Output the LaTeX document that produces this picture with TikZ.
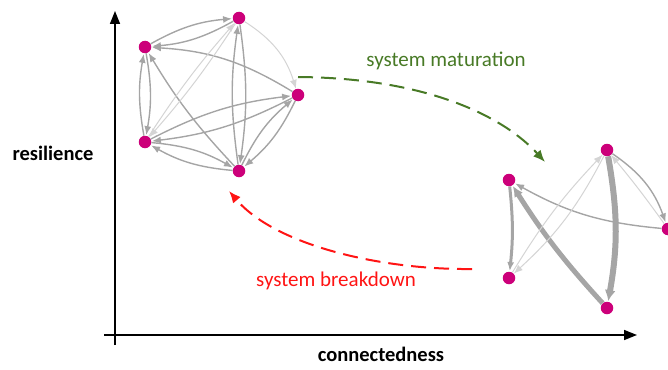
\documentclass[tikz,border=0pt]{standalone}
\usepackage{fontspec}
\setmainfont{Carlito}
\usetikzlibrary{arrows.meta}
\definecolor{nodemag}{RGB}{204,0,122}
\definecolor{edgegray}{RGB}{165,165,165}
\definecolor{edgefaint}{RGB}{212,212,212}
\definecolor{matgreen}{RGB}{72,122,38}
\definecolor{brkred}{RGB}{255,20,20}
\tikzset{
  vtx/.style={circle,fill=nodemag,inner sep=0pt,minimum size=12.5pt},
  edg/.style={draw=edgegray,line width=1.4pt,-{Latex[length=9pt,width=7pt]},shorten >=0.5pt},
  fedg/.style={draw=edgefaint,line width=1pt,-{Latex[length=9pt,width=7pt]}},
  axis/.style={draw=black,line width=1.5pt},
  lbl/.style={font=\fontsize{20.5}{24}\selectfont\bfseries},
  trans/.style={line width=2pt,dash pattern=on 15pt off 8pt}
}
\begin{document}
\begin{tikzpicture}[x=1pt,y=-1pt]
\useasboundingbox (0,0) rectangle (668,369);
% axes
\coordinate (orgx) at (104,335);
\coordinate (xend) at (637,335);
\coordinate (orgy) at (115,345);
\coordinate (yend) at (115,11);
\draw[axis,-{Triangle[length=13pt,width=10pt]}] (orgx) -- (xend);
\draw[axis,-{Triangle[length=13pt,width=10pt]}] (orgy) -- (yend);
\node[lbl] (res) at (53,153) {resilience};
\node[lbl] (con) at (381,354) {connectedness};

% cluster 1
\node[vtx] (A) at (239,18) {};
\node[vtx] (B) at (145,47) {};
\node[vtx] (C) at (298,95) {};
\node[vtx] (D) at (145,142) {};
\node[vtx] (E) at (239,171) {};

\draw[edg] (A) to[bend left=12] (B);
\draw[edg] (B) to[bend left=12] (A);
\draw[edg] (B) to[bend left=10] (D);
\draw[edg] (D) to[bend left=10] (B);
\draw[edg] (D) to[bend left=12] (E);
\draw[edg] (E) to[bend left=12] (D);
\draw[edg] (E) to[bend left=12] (C);
\draw[edg] (C) to[bend left=12] (E);
\draw[edg] (A) to[bend left=8] (E);
\draw[edg] (E) to[bend left=8] (A);
\draw[edg] (C) to[bend left=10] (D);
\draw[edg] (D) to[bend left=10] (C);
\draw[edg] (C) to[bend right=14] (B);
\draw[edg] (E) to[bend left=6] (B);
\draw[fedg] (A) to[bend left=20] (C);
\draw[fedg] (A) to[bend left=4] (D);
\draw[fedg] (D) to[bend left=4] (A);

% cluster 2
\node[vtx] (P) at (607,150) {};
\node[vtx] (Q) at (509,180) {};
\node[vtx] (R) at (668,229) {};
\node[vtx] (S) at (509,278) {};
\node[vtx] (T) at (607,308) {};

\draw[edg,line width=3pt] (Q) to[bend left=6] (S);
\draw[edg,line width=5pt,-{Latex[length=11pt,width=10pt]}] (T) to[bend left=5] (Q);
\draw[edg,line width=6pt,-{Latex[length=11pt,width=11pt]}] (P) to[bend left=10] (T);
\draw[edg] (R) to[bend left=12] (Q);
\draw[edg] (P) to[bend left=18] (R);
\draw[fedg] (R) to[bend left=-2] (P);
\draw[fedg] (S) to[bend left=6] (P);
\draw[fedg] (P) to[bend left=10] (S);

% transitions
\coordinate (gs) at (298,77);
\coordinate (ge) at (545,162);
\draw[trans,draw=matgreen,-{Latex[length=12pt,width=10pt]},color=matgreen]
  (gs) .. controls (430,78) and (505,118) .. (ge);
\node[font=\fontsize{21}{24}\selectfont,text=matgreen] (mat) at (446,61) {system maturation};

\coordinate (rs) at (472,269);
\coordinate (re) at (229,191);
\draw[trans,draw=brkred,color=brkred,-{Latex[length=12pt,width=10pt]}]
  (rs) .. controls (380,270) and (275,245) .. (re);
\node[font=\fontsize{21}{24}\selectfont,text=brkred] (brk) at (336,281) {system breakdown};
\end{tikzpicture}
\end{document}
